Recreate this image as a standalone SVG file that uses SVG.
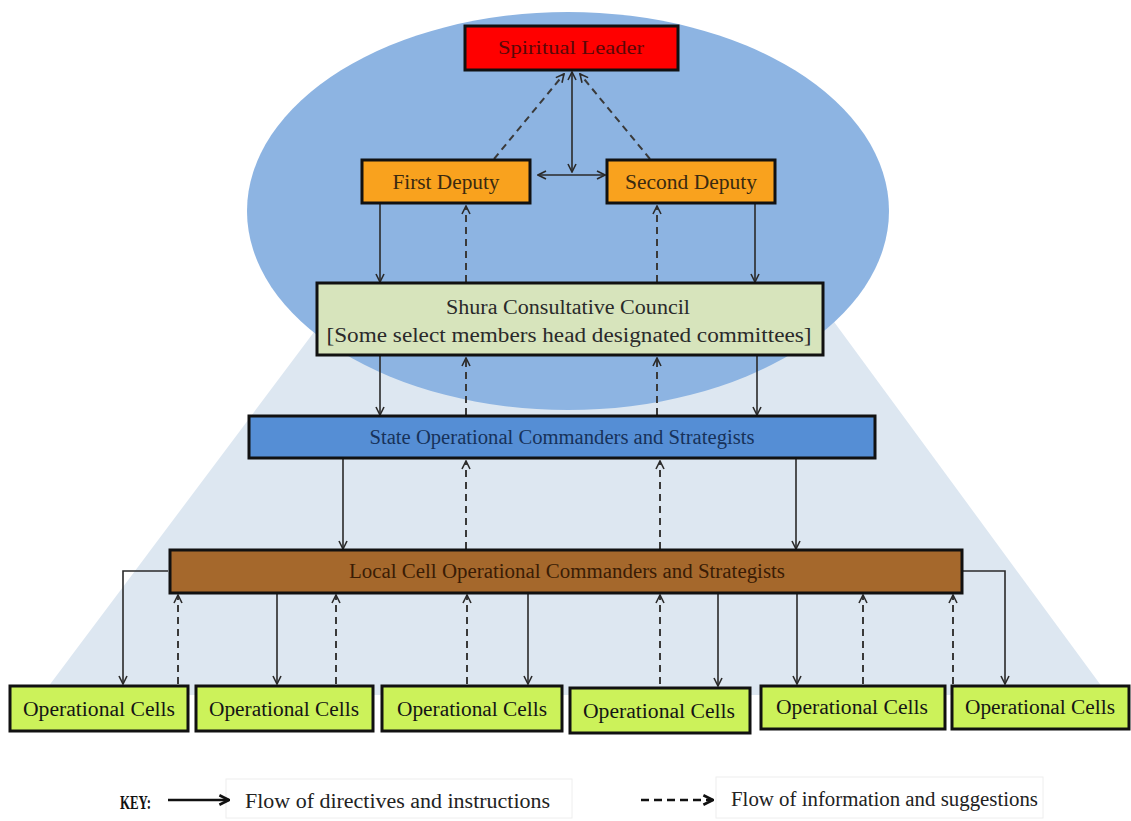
<svg xmlns="http://www.w3.org/2000/svg" width="1131" height="821" viewBox="0 0 1131 821">
<defs>
<marker id="ah" viewBox="0 0 10 10" refX="9" refY="5" markerWidth="10" markerHeight="10" markerUnits="userSpaceOnUse" orient="auto-start-reverse">
<path d="M1,1 L9,5 L1,9" fill="none" stroke="#2a2a2a" stroke-width="1.6"/>
</marker>
<marker id="ahk" viewBox="0 0 10 10" refX="9" refY="5" markerWidth="12" markerHeight="12" markerUnits="userSpaceOnUse" orient="auto">
<path d="M1,1 L9,5 L1,9" fill="none" stroke="#111" stroke-width="2.2"/>
</marker>
</defs>
<style>
.box{stroke:#111;stroke-width:3}
.t{font-family:"Liberation Serif","Times New Roman",serif;text-anchor:middle}
.s{fill:none;stroke:#2a2a2a;stroke-width:1.6}
.d{fill:none;stroke:#3a3a3a;stroke-width:2;stroke-dasharray:7 5}
.cell{fill:#ccf25a;stroke:#111;stroke-width:3}
.ct{font-family:"Liberation Serif","Times New Roman",serif;font-size:20px;fill:#151515;text-anchor:middle}
.kb{fill:#fff;stroke:#eeeeee;stroke-width:1}
.kt{font-family:"Liberation Serif","Times New Roman",serif;font-size:20px;fill:#222}
</style>
<rect width="1131" height="821" fill="#fff"/>
<g id="background">
<polygon points="338,300 818,300 1108,695 42,695" fill="#dde7f1"/>
<ellipse cx="568" cy="211" rx="321" ry="199" fill="#8db4e2"/>
</g>
<g id="connectors">
<line class="s" x1="572" y1="72" x2="572" y2="172" marker-start="url(#ah)" marker-end="url(#ah)"/>
<line class="s" x1="538" y1="175" x2="605" y2="175" marker-start="url(#ah)" marker-end="url(#ah)"/>
<line class="d" x1="494" y1="159" x2="564" y2="74" marker-end="url(#ah)"/>
<line class="d" x1="650" y1="159" x2="580" y2="74" marker-end="url(#ah)"/>
<line class="s" x1="380" y1="204" x2="380" y2="282" marker-end="url(#ah)"/>
<line class="d" x1="466" y1="282" x2="466" y2="206" marker-end="url(#ah)"/>
<line class="d" x1="657" y1="282" x2="657" y2="206" marker-end="url(#ah)"/>
<line class="s" x1="755" y1="204" x2="755" y2="282" marker-end="url(#ah)"/>
<line class="s" x1="380" y1="356" x2="380" y2="415" marker-end="url(#ah)"/>
<line class="d" x1="466" y1="415" x2="466" y2="358" marker-end="url(#ah)"/>
<line class="d" x1="657" y1="415" x2="657" y2="358" marker-end="url(#ah)"/>
<line class="s" x1="757" y1="356" x2="757" y2="415" marker-end="url(#ah)"/>
<line class="s" x1="343" y1="459" x2="343" y2="549" marker-end="url(#ah)"/>
<line class="d" x1="466" y1="549" x2="466" y2="461" marker-end="url(#ah)"/>
<line class="d" x1="660" y1="549" x2="660" y2="461" marker-end="url(#ah)"/>
<line class="s" x1="796" y1="459" x2="796" y2="549" marker-end="url(#ah)"/>
<polyline class="s" points="168,571 123,571 123,684" marker-end="url(#ah)"/>
<polyline class="s" points="963,571 1005,571 1005,684" marker-end="url(#ah)"/>
<line class="d" x1="178" y1="684" x2="178" y2="595" marker-end="url(#ah)"/>
<line class="s" x1="277" y1="594" x2="277" y2="684" marker-end="url(#ah)"/>
<line class="d" x1="336" y1="684" x2="336" y2="595" marker-end="url(#ah)"/>
<line class="d" x1="467" y1="684" x2="467" y2="595" marker-end="url(#ah)"/>
<line class="s" x1="528" y1="594" x2="528" y2="684" marker-end="url(#ah)"/>
<line class="d" x1="660" y1="684" x2="660" y2="595" marker-end="url(#ah)"/>
<line class="s" x1="718" y1="594" x2="718" y2="686" marker-end="url(#ah)"/>
<line class="s" x1="797" y1="594" x2="797" y2="684" marker-end="url(#ah)"/>
<line class="d" x1="863" y1="684" x2="863" y2="595" marker-end="url(#ah)"/>
<line class="d" x1="953" y1="684" x2="953" y2="595" marker-end="url(#ah)"/>
</g>
<g id="spiritual-leader">
<rect class="box" x="465" y="26" width="213" height="44" fill="#ff0000"/>
<text class="t" x="571" y="54" font-size="19" fill="#5a0808" textLength="146" lengthAdjust="spacingAndGlyphs">Spiritual  Leader</text>
</g>
<g id="first-deputy">
<rect class="box" x="362" y="160" width="168" height="43" fill="#f9a21e"/>
<text class="t" x="446" y="189" font-size="20" fill="#3a2a10" textLength="107" lengthAdjust="spacingAndGlyphs">First Deputy</text>
</g>
<g id="second-deputy">
<rect class="box" x="607" y="160" width="168" height="43" fill="#f9a21e"/>
<text class="t" x="691" y="189" font-size="20" fill="#3a2a10" textLength="132" lengthAdjust="spacingAndGlyphs">Second Deputy</text>
</g>
<g id="shura-council">
<rect class="box" x="317" y="283" width="506" height="72" fill="#d7e4bc"/>
<text class="t" x="568" y="314" font-size="20" fill="#2a2a2a" textLength="244" lengthAdjust="spacingAndGlyphs">Shura Consultative Council</text>
<text class="t" x="569" y="342" font-size="20" fill="#2a2a2a" textLength="485" lengthAdjust="spacingAndGlyphs">[Some select members head designated committees]</text>
</g>
<g id="state-commanders">
<rect class="box" x="249" y="416" width="626" height="42" fill="#558ed5"/>
<text class="t" x="562" y="444" font-size="20" fill="#17325a" textLength="385" lengthAdjust="spacingAndGlyphs">State Operational Commanders and Strategists</text>
</g>
<g id="local-commanders">
<rect class="box" x="170" y="550" width="792" height="43" fill="#a5682c"/>
<text class="t" x="567" y="578" font-size="20" fill="#3a1c05" textLength="436" lengthAdjust="spacingAndGlyphs">Local Cell Operational Commanders and Strategists</text>
</g>
<g id="cell-1"><rect class="cell" x="10" y="686" width="178" height="45"/><text class="ct" x="99" y="716" textLength="152" lengthAdjust="spacingAndGlyphs">Operational Cells</text></g>
<g id="cell-2"><rect class="cell" x="196" y="686" width="177" height="45"/><text class="ct" x="284" y="716" textLength="150" lengthAdjust="spacingAndGlyphs">Operational Cells</text></g>
<g id="cell-3"><rect class="cell" x="382" y="686" width="180" height="45"/><text class="ct" x="472" y="716" textLength="150" lengthAdjust="spacingAndGlyphs">Operational Cells</text></g>
<g id="cell-4"><rect class="cell" x="570" y="688" width="180" height="45"/><text class="ct" x="659" y="718" textLength="152" lengthAdjust="spacingAndGlyphs">Operational Cells</text></g>
<g id="cell-5"><rect class="cell" x="761" y="686" width="184" height="43"/><text class="ct" x="852" y="714" textLength="152" lengthAdjust="spacingAndGlyphs">Operational Cells</text></g>
<g id="cell-6"><rect class="cell" x="952" y="686" width="177" height="43"/><text class="ct" x="1040" y="714" textLength="150" lengthAdjust="spacingAndGlyphs">Operational Cells</text></g>
<g id="key">
<rect class="kb" x="226" y="779" width="346" height="39"/>
<rect class="kb" x="716" y="777" width="327" height="41"/>
<text x="120" y="809" font-family="Liberation Serif, serif" font-size="19" font-weight="bold" fill="#111" textLength="31" lengthAdjust="spacingAndGlyphs">KEY:</text>
<line x1="168" y1="800" x2="229" y2="800" stroke="#111" stroke-width="2.4" marker-end="url(#ahk)"/>
<text class="kt" x="245" y="808" textLength="305" lengthAdjust="spacingAndGlyphs">Flow of directives and instructions</text>
<line x1="641" y1="800" x2="713" y2="800" stroke="#111" stroke-width="2.4" stroke-dasharray="8 5" marker-end="url(#ahk)"/>
<text class="kt" x="731" y="806" textLength="307" lengthAdjust="spacingAndGlyphs">Flow of information and suggestions</text>
</g>
</svg>
